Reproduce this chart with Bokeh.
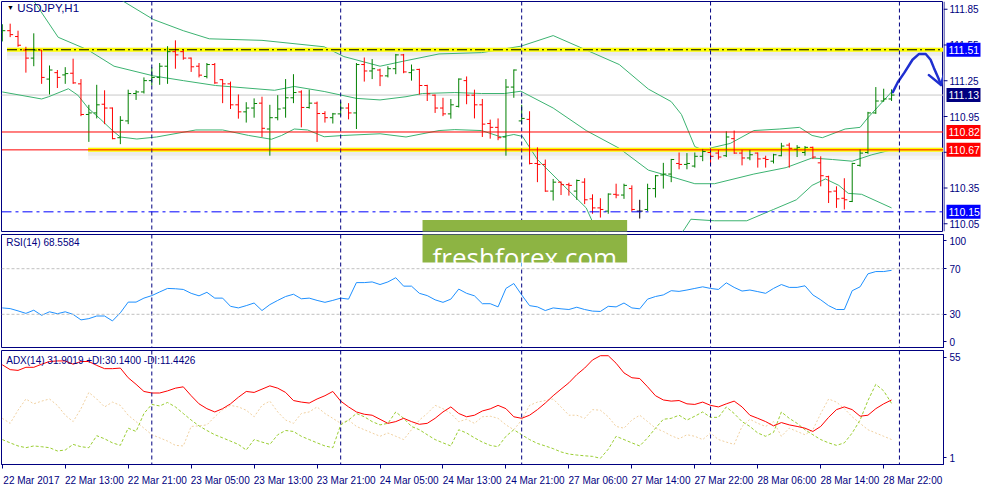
import numpy as np
from bokeh.plotting import figure
from bokeh.layouts import column, row
from bokeh.models import (Range1d, Span, Label, BoxAnnotation, FixedTicker, ColumnDataSource)
from bokeh.core.properties import value
from bokeh.embed import file_html
from bokeh.resources import INLINE

# ---------------- data ----------------
symbol_title = "USDJPY,H1"
rsi_title = "RSI(14) 68.5584"
adx_title = "ADX(14) 31.9019 +DI:30.1400 -DI:11.4426"
watermark_text = "freshforex.com"

bar_open = [111.656, 111.670, 111.621, 111.508, 111.440, 111.508, 111.264, 111.318, 111.299, 111.313,
            111.224, 110.967, 110.980, 111.053, 111.021, 110.772, 110.913, 111.143, 111.156, 111.251,
            111.278, 111.372, 111.494, 111.494, 111.440, 111.372, 111.286, 111.386, 111.259, 111.224,
            111.048, 110.989, 111.021, 111.062, 110.845, 110.940, 111.021, 111.107, 111.156, 111.026,
            111.062, 110.975, 110.940, 110.972, 111.021, 110.980, 111.386, 111.332, 111.340, 111.291,
            111.351, 111.467, 111.318, 111.345, 111.210, 111.129, 111.021, 110.972, 111.035, 111.251,
            111.129, 111.048, 110.891, 110.859, 110.778, 111.197, 110.913, 110.926, 110.556, 110.548,
            110.324, 110.399, 110.378, 110.324, 110.399, 110.259, 110.183, 110.156, 110.297, 110.291,
            110.345, 110.156, 110.170, 110.345, 110.459, 110.467, 110.556, 110.548, 110.534, 110.616,
            110.648, 110.643, 110.621, 110.764, 110.643, 110.602, 110.643, 110.599, 110.575, 110.621,
            110.710, 110.675, 110.648, 110.691, 110.561, 110.445, 110.324, 110.264, 110.237, 110.540,
            110.648, 110.980, 111.080, 111.097]
bar_high = [111.724, 111.729, 111.670, 111.535, 111.648, 111.508, 111.378, 111.340, 111.364, 111.435,
            111.264, 111.048, 111.216, 111.170, 111.026, 110.953, 111.175, 111.170, 111.278, 111.364,
            111.399, 111.540, 111.589, 111.513, 111.445, 111.399, 111.399, 111.399, 111.264, 111.243,
            111.135, 111.070, 111.102, 111.116, 111.048, 111.129, 111.264, 111.305, 111.170, 111.175,
            111.075, 110.994, 110.980, 111.075, 111.062, 111.399, 111.445, 111.432, 111.351, 111.372,
            111.475, 111.475, 111.386, 111.351, 111.216, 111.135, 111.107, 111.097, 111.270, 111.286,
            111.175, 111.097, 110.924, 110.934, 111.264, 111.345, 111.048, 110.994, 110.691, 110.589,
            110.426, 110.405, 110.394, 110.421, 110.432, 110.297, 110.264, 110.305, 110.386, 110.386,
            110.372, 110.251, 110.386, 110.459, 110.561, 110.594, 110.648, 110.643, 110.648, 110.678,
            110.683, 110.670, 110.826, 110.832, 110.670, 110.670, 110.648, 110.621, 110.637, 110.729,
            110.729, 110.710, 110.702, 110.697, 110.616, 110.453, 110.364, 110.432, 110.561, 110.675,
            110.989, 111.197, 111.183, 111.178]
bar_low = [111.580, 111.616, 111.535, 111.318, 111.372, 111.224, 111.135, 111.189, 111.224, 111.224,
           110.953, 110.737, 110.934, 110.886, 110.759, 110.718, 110.886, 111.089, 111.143, 111.210,
           111.216, 111.224, 111.351, 111.426, 111.324, 111.278, 111.270, 111.224, 111.062, 111.013,
           110.932, 110.899, 110.940, 110.778, 110.621, 110.918, 110.940, 111.062, 110.859, 111.016,
           110.737, 110.899, 110.891, 110.953, 110.926, 110.845, 111.243, 111.264, 111.205, 111.278,
           111.305, 111.313, 111.251, 111.135, 111.080, 110.980, 110.953, 110.932, 111.026, 111.053,
           110.934, 110.778, 110.764, 110.751, 110.621, 111.107, 110.886, 110.548, 110.399, 110.318,
           110.245, 110.291, 110.286, 110.251, 110.215, 110.134, 110.102, 110.134, 110.264, 110.259,
           110.151, 110.094, 110.156, 110.270, 110.345, 110.399, 110.507, 110.507, 110.521, 110.575,
           110.548, 110.589, 110.610, 110.637, 110.540, 110.583, 110.521, 110.521, 110.556, 110.616,
           110.521, 110.610, 110.621, 110.594, 110.364, 110.224, 110.183, 110.170, 110.232, 110.529,
           110.637, 110.972, 111.075, 111.080]
bar_close = [111.670, 111.637, 111.548, 111.440, 111.508, 111.278, 111.340, 111.278, 111.310, 111.232,
             110.967, 110.980, 111.048, 111.021, 110.764, 110.918, 111.143, 111.156, 111.251, 111.278,
             111.372, 111.494, 111.467, 111.440, 111.367, 111.297, 111.386, 111.232, 111.224, 111.048,
             110.989, 111.021, 111.059, 110.851, 110.940, 111.013, 111.107, 111.151, 111.026, 111.062,
             110.975, 110.940, 110.972, 111.021, 110.980, 111.386, 111.332, 111.351, 111.291, 111.351,
             111.467, 111.324, 111.340, 111.210, 111.140, 111.021, 110.972, 111.048, 111.264, 111.129,
             111.048, 110.886, 110.859, 110.772, 111.197, 111.340, 110.934, 110.556, 110.548, 110.324,
             110.399, 110.378, 110.372, 110.413, 110.251, 110.183, 110.170, 110.299, 110.291, 110.372,
             110.170, 110.156, 110.345, 110.453, 110.467, 110.589, 110.548, 110.556, 110.616, 110.656,
             110.616, 110.610, 110.778, 110.643, 110.602, 110.629, 110.594, 110.589, 110.629, 110.702,
             110.683, 110.691, 110.691, 110.610, 110.453, 110.318, 110.259, 110.251, 110.556, 110.643,
             110.980, 111.080, 111.097, 111.130]

# Bollinger bands (sampled along the bar axis)
bb_upper_x = [8, 14.8, 19.2, 23.0, 26.3, 33.0, 40.9, 43.4, 48.0, 50.9, 55.5, 60.9, 63.4, 65.9, 70.0,
              74.2, 78.4, 82.1, 85.0, 86.3, 88.0, 89.0, 92.5, 95.5, 98.8, 101.3, 102.9, 104.2, 107.1,
              109.0, 110.0, 113.0]
bb_upper = [112.25, 111.94, 111.764, 111.670, 111.602, 111.589, 111.535, 111.453, 111.372, 111.413,
            111.475, 111.486, 111.513, 111.540, 111.629, 111.508, 111.386, 111.180, 111.075, 110.967,
            110.697, 110.670, 110.724, 110.832, 110.845, 110.859, 110.791, 110.772, 110.845, 110.859,
            110.940, 111.156]
bb_mid_x = [0, 3.8, 7.1, 10.9, 14.2, 19.2, 23.0, 27.1, 34.6, 37.1, 40.9, 45.0, 48.0, 51.3, 53.4, 57.5,
            60.9, 63.8, 65.9, 70.0, 74.2, 78.4, 82.1, 84.6, 88.0, 90.5, 95.5, 99.6, 102.9, 105.5, 108.0,
            110.5, 113.0]
bb_mid = [112.17, 111.94, 111.615, 111.508, 111.372, 111.291, 111.251, 111.210, 111.170, 111.202,
          111.160, 111.102, 111.089, 111.116, 111.143, 111.151, 111.143, 111.143, 111.162, 111.021,
          110.832, 110.683, 110.500, 110.453, 110.386, 110.386, 110.467, 110.521, 110.602, 110.589,
          110.575, 110.629, 110.670]
bb_lower_x = [0, 5.0, 5.9, 8.4, 9.6, 10.9, 12.5, 14.0, 15.0, 17.1, 19.6, 24.6, 28.0, 31.3, 34.2, 35.5,
              37.1, 38.8, 40.9, 43.4, 48.0, 51.3, 55.5, 57.5, 60.9, 63.4, 65.0, 66.1, 68.0, 70.9, 74.2,
              75.5, 78.0, 82.0, 85.0, 86.7, 87.5, 90.5, 94.6, 98.0, 100.9, 102.9, 104.6, 106.3, 107.5,
              109.2, 113.0]
bb_lower = [111.156, 111.097, 111.116, 111.183, 111.129, 111.021, 110.926, 110.832, 110.778, 110.761,
            110.778, 110.837, 110.837, 110.791, 110.759, 110.791, 110.845, 110.837, 110.780, 110.791,
            110.805, 110.778, 110.832, 110.840, 110.832, 110.778, 110.799, 110.783, 110.589, 110.399,
            110.183, 109.994, 109.72, 109.70, 109.85, 110.007, 110.088, 110.075, 110.075, 110.170,
            110.251, 110.372, 110.426, 110.372, 110.305, 110.297, 110.183]

rsi = [35.6, 35.0, 33.0, 30.8, 33.6, 29.1, 32.2, 30.5, 32.2, 29.9,
       25.1, 26.2, 28.5, 28.5, 24.2, 31.3, 40.7, 40.7, 44.2, 46.4,
       49.6, 52.7, 52.4, 51.8, 48.4, 46.2, 49.3, 44.2, 44.2, 37.0,
       35.6, 37.6, 39.9, 33.3, 38.5, 42.2, 45.6, 47.6, 43.6, 44.2,
       42.2, 40.5, 42.2, 44.2, 43.3, 57.8, 57.8, 58.4, 56.1, 58.4,
       62.1, 54.7, 54.7, 48.4, 46.4, 42.7, 40.5, 43.3, 52.1, 48.4,
       46.2, 39.3, 39.3, 36.5, 52.7, 57.0, 47.0, 37.6, 36.5, 33.3,
       35.6, 34.8, 34.2, 36.2, 34.2, 32.8, 32.5, 37.0, 36.5, 39.9,
       35.6, 34.8, 43.3, 45.6, 47.0, 50.7, 50.1, 51.3, 52.7, 54.1,
       52.7, 51.8, 57.6, 53.6, 50.4, 51.3, 49.9, 48.4, 52.7, 56.1,
       53.6, 53.6, 55.0, 47.0, 42.7, 37.6, 34.2, 34.2, 50.7, 54.1,
       65.5, 67.5, 67.5, 68.56]
rsi_levels = [30, 70]
rsi_tick_labels = ["0", "30", "70", "100"]

adx = [50.1, 47.6, 47.2, 48.8, 48.8, 50.4, 51.8, 52.1, 52.1, 50.4,
       51.8, 51.8, 49.8, 48.1, 48.1, 48.4, 43.4, 40.0, 36.3, 35.5,
       35.5, 36.6, 38.0, 38.7, 34.1, 29.9, 27.4, 25.7, 27.4, 29.9,
       33.3, 36.3, 35.8, 37.5, 39.2, 38.0, 35.8, 31.6, 30.8, 30.3,
       32.4, 34.1, 36.3, 31.3, 28.3, 25.7, 24.5, 24.0, 21.9, 19.8,
       20.7, 22.4, 20.7, 19.3, 19.8, 22.4, 25.7, 28.3, 24.9, 23.2,
       24.0, 26.2, 27.3, 29.1, 27.4, 23.2, 22.4, 24.0, 26.9, 30.3,
       34.1, 37.5, 40.8, 45.0, 48.4, 52.6, 54.8, 54.8, 50.9, 45.9,
       43.4, 43.0, 38.7, 34.1, 31.9, 31.3, 31.6, 29.9, 29.6, 30.8,
       29.1, 28.3, 29.9, 31.3, 28.3, 24.0, 22.4, 20.7, 18.5, 20.2,
       19.0, 18.2, 17.3, 15.6, 18.2, 22.9, 26.9, 28.3, 26.9, 23.5,
       24.0, 27.4, 29.9, 31.9]
plus_di = [11.4, 9.7, 8.1, 7.2, 8.1, 7.7, 7.2, 5.5, 6.0, 8.9,
           7.7, 7.2, 13.4, 11.8, 9.7, 8.4, 17.3, 15.6, 24.9, 29.6,
           28.8, 30.6, 28.3, 24.9, 21.5, 18.5, 16.1, 13.9, 12.3, 10.6,
           8.9, 6.0, 11.4, 10.1, 8.9, 13.9, 16.1, 15.6, 13.1, 11.4,
           9.7, 8.1, 7.2, 19.0, 21.5, 24.9, 23.2, 20.7, 19.0, 19.8,
           25.7, 22.4, 18.2, 16.5, 13.9, 11.4, 9.7, 8.1, 16.5, 14.8,
           12.3, 10.1, 8.4, 7.7, 13.1, 16.5, 13.9, 11.4, 9.4, 8.1,
           6.7, 5.0, 3.9, 3.4, 3.0, 2.7, 1.7, 6.4, 13.1, 11.4,
           9.7, 8.1, 12.3, 17.3, 21.9, 22.4, 24.0, 21.5, 23.5, 25.7,
           22.9, 22.9, 28.3, 24.9, 20.7, 18.2, 14.8, 13.1, 15.1, 25.7,
           22.4, 19.8, 16.5, 13.9, 11.4, 9.7, 8.4, 9.7, 14.8, 21.5,
           31.6, 40.0, 36.6, 30.14]
minus_di = [22.4, 19.8, 26.6, 32.4, 29.9, 31.3, 32.4, 29.1, 24.0, 20.7,
            27.4, 35.8, 32.4, 28.3, 30.8, 29.1, 24.0, 20.7, 17.3, 13.9,
            12.3, 10.6, 8.4, 8.1, 18.2, 18.5, 19.0, 23.2, 26.9, 29.1,
            28.3, 26.6, 23.2, 29.1, 31.3, 25.7, 21.5, 19.8, 24.9, 25.7,
            28.3, 24.9, 22.4, 19.8, 21.5, 18.2, 16.5, 14.8, 13.1, 14.8,
            13.1, 11.4, 16.5, 21.5, 24.9, 29.1, 27.4, 24.9, 20.7, 21.9,
            19.8, 23.2, 23.5, 22.4, 19.0, 16.5, 21.5, 29.1, 30.8, 31.6,
            32.4, 28.3, 24.0, 24.0, 22.4, 26.9, 26.6, 23.2, 18.2, 17.3,
            21.5, 24.0, 20.7, 17.3, 15.6, 13.4, 11.8, 13.9, 13.1, 11.4,
            14.8, 11.4, 10.1, 8.9, 18.2, 21.9, 19.8, 18.2, 20.7, 13.1,
            17.3, 15.6, 13.9, 16.5, 24.9, 32.4, 30.8, 27.4, 23.2, 19.8,
            16.5, 14.8, 13.1, 11.44]
adx_scale_labels = ["1", "55"]

time_tick_bars = [0, 8, 16, 24, 32, 40, 48, 56, 64, 72, 80, 88, 96, 104, 112]
time_tick_labels = ["22 Mar 2017", "22 Mar 13:00", "22 Mar 21:00", "23 Mar 05:00", "23 Mar 13:00",
                    "23 Mar 21:00", "24 Mar 05:00", "24 Mar 13:00", "24 Mar 21:00", "27 Mar 06:00",
                    "27 Mar 14:00", "27 Mar 22:00", "28 Mar 06:00", "28 Mar 14:00", "28 Mar 22:00"]
day_separator_bars = [19, 43, 66, 90, 114]
price_ticks = [111.85, 111.55, 111.25, 110.95, 110.65, 110.35, 110.05]

resistance_level = 111.51
resistance_start = 0.6
current_price = 111.13
red_level = 110.82
support_level = 110.67
support_start = 10.9
low_level = 110.15
price_tags = [resistance_level, current_price, red_level, support_level, low_level]
price_tag_colors = ["#0000ff", "#000080", "#ff0000", "#ff0000", "#0000ff"]

# hand-drawn forecast arrow (bar, price)
arrow_x = [113.16, 113.79, 114.63, 115.66, 116.5, 117.34, 117.96, 118.38, 119.0, 119.29]
arrow_y = [111.155, 111.237, 111.318, 111.426, 111.475, 111.475, 111.426, 111.358, 111.264, 111.215]
arrow_head_x = [117.75, 119.29, 119.96]
arrow_head_y = [111.297, 111.215, 111.378]

# ---------------- style / layout ----------------
NAVY = "#000080"
BULL, BEAR, DOJI = "#008000", "#ff0000", "#000000"
BB_COL = "#3CB371"
FONT = "Liberation Sans"
FRAME_W = 942
MAIN_H, RSI_H, ADX_H = 230, 114, 114
GAP = 2
RIGHT = 40
LAB_W = 40
x_lo, x_hi = -0.1, 119.6
price_lo, price_hi = 109.985, 111.915
rsi_lo, rsi_hi = 0, 100
adx_lo, adx_hi = -1.5, 57.5
TICK = 0.38
LABEL_SHIFT = 3.7   # label centre offset (bars) so that date text starts at its tick

xr = Range1d(x_lo, x_hi)

main_top = 1
rsi_top = 1 + MAIN_H + 1 + GAP
def main_val(yc):
    return price_hi - (yc - main_top) / MAIN_H * (price_hi - price_lo)
def rsi_val(yc):
    return rsi_hi - (yc - rsi_top) / RSI_H * (rsi_hi - rsi_lo)
wm_top_px, wm_bot_px, wm_base_px = 219.5, 262.0, 256.0
wm_left, wm_right, wm_center = 53.4, 79.4, 66.4


def style_yaxis(f):
    for ax in f.yaxis:
        ax.axis_line_color = NAVY
        ax.axis_line_width = 1
        ax.major_tick_line_color = NAVY
        ax.minor_tick_line_color = None
        ax.major_tick_out = 3
        ax.major_tick_in = 0
        ax.major_label_standoff = 3
        ax.major_label_text_font = FONT
        ax.major_label_text_font_size = "10px"
        ax.major_label_text_color = NAVY


def make_fig(h, yr, top, right, bottom, xaxis=False, yaxis=True):
    f = figure(frame_width=FRAME_W, frame_height=h, x_range=xr, y_range=yr,
               output_backend="svg", toolbar_location=None,
               y_axis_location="right" if yaxis else None,
               x_axis_location="below" if xaxis else None,
               min_border_left=1, min_border_right=right, min_border_top=top,
               min_border_bottom=bottom)
    f.grid.visible = False
    f.outline_line_color = NAVY
    f.outline_line_width = 1
    style_yaxis(f)
    for b in day_separator_bars:
        f.add_layout(Span(location=b, dimension="height", line_color=NAVY,
                          line_dash="4 3", line_width=1))
    return f


# ---------------- main price panel ----------------
p = make_fig(MAIN_H, Range1d(price_lo, price_hi), 1, 0, 1, yaxis=False)

ppx = (price_hi - price_lo) / MAIN_H
for lvl, start in [(resistance_level, resistance_start), (support_level, support_start)]:
    p.add_layout(BoxAnnotation(left=start, top=lvl + 3 * ppx, bottom=lvl - 10 * ppx,
                               fill_color="#808080", fill_alpha=0.07, line_color=None, level="underlay"))
    p.add_layout(BoxAnnotation(left=start, top=lvl + 1 * ppx, bottom=lvl - 6 * ppx,
                               fill_color="#808080", fill_alpha=0.09, line_color=None, level="underlay"))

p.line(bb_upper_x, bb_upper, color=BB_COL, line_width=1)
p.line(bb_mid_x, bb_mid, color=BB_COL, line_width=1)
p.line(bb_lower_x, bb_lower, color=BB_COL, line_width=1)

p.add_layout(Span(location=current_price, dimension="width", line_color="#C8C8C8", line_width=1,
                  level="underlay"))

p.segment(x0=[resistance_start], y0=[resistance_level], x1=[x_hi + 5], y1=[resistance_level],
          line_color="#ffff00", line_width=4)
p.segment(x0=[support_start], y0=[support_level], x1=[x_hi + 5], y1=[support_level],
          line_color="#ffff00", line_width=4)

idx = np.arange(len(bar_open))
o, hh, ll, cc = map(np.array, (bar_open, bar_high, bar_low, bar_close))
colors = [BULL if c > op else (BEAR if c < op else DOJI) for op, c in zip(o, cc)]
src = ColumnDataSource(dict(x=idx, xl=idx - TICK, xr=idx + TICK, o=o, h=hh, l=ll, c=cc, color=colors))
p.segment(x0="x", y0="l", x1="x", y1="h", line_color="color", line_width=1, source=src)
p.segment(x0="xl", y0="o", x1="x", y1="o", line_color="color", line_width=1, source=src)
p.segment(x0="x", y0="c", x1="xr", y1="c", line_color="color", line_width=1, source=src)

p.segment(x0=[resistance_start], y0=[resistance_level], x1=[x_hi + 5], y1=[resistance_level],
          line_color="#000000", line_width=1, line_dash="10 3 2 3")
p.add_layout(Span(location=red_level, dimension="width", line_color="#ff0000", line_width=1))
p.add_layout(Span(location=support_level, dimension="width", line_color="#ff0000", line_width=1))
p.add_layout(Span(location=low_level, dimension="width", line_color="#0000ff", line_width=1,
                  line_dash="10 4 3 4"))

p.line(arrow_x, arrow_y, line_color="#1f2fd0", line_width=2.5, line_cap="round", line_join="round")
p.line(arrow_head_x, arrow_head_y, line_color="#1f2fd0", line_width=2.5, line_cap="round",
       line_join="round")

p.add_layout(Label(x=0.6, y=111.862, text="\u25bc", text_font_size="7px", text_color="#000000",
                   text_baseline="middle", text_font=FONT))
p.add_layout(Label(x=1.9, y=111.859, text=symbol_title, text_font_size="11.5px", text_color=NAVY,
                   text_baseline="middle", text_font=FONT))

# price scale column (axis line, ticks, tick texts, coloured level tags) on the price scale
pl = figure(frame_width=LAB_W, frame_height=MAIN_H, x_range=Range1d(0, LAB_W), y_range=p.y_range,
            output_backend="svg", toolbar_location=None, x_axis_location=None, y_axis_location=None,
            min_border_left=0, min_border_right=0, min_border_top=1, min_border_bottom=1)
pl.outline_line_color = None
pl.grid.visible = False
pl.add_layout(Span(location=0.5, dimension="height", line_color=NAVY, line_width=1))
n_t = len(price_ticks)
pl.segment(x0=[0] * n_t, y0=price_ticks, x1=[4] * n_t, y1=price_ticks, line_color=NAVY, line_width=1)
pl.text(x=[6] * n_t, y=price_ticks, text=[f"{t:.2f}" for t in price_ticks],
        text_align="left", text_baseline="middle", text_font=value(FONT), text_font_size="10px",
        text_color=NAVY)
pl.rect(x=[20] * len(price_tags), y=price_tags, width=34, height=14, height_units="screen",
        fill_color=price_tag_colors, line_color=None)
pl.text(x=[5] * len(price_tags), y=price_tags, text=[f"{t:.2f}" for t in price_tags],
        text_align="left", text_baseline="middle", text_font=value(FONT), text_font_size="10.5px",
        text_color="white")

# ---------------- RSI panel ----------------
r = make_fig(RSI_H, Range1d(rsi_lo, rsi_hi), GAP, RIGHT, 0)
rsi_tick_pos = [6, 30, 70, 94.5]
r.yaxis.ticker = FixedTicker(ticks=rsi_tick_pos)
r.yaxis.major_label_overrides = {t: s for t, s in zip(rsi_tick_pos, rsi_tick_labels)}
for lv in rsi_levels:
    r.add_layout(Span(location=lv, dimension="width", line_color="#C0C0C0", line_width=1, line_dash="3 2"))
r.line(idx, rsi, color="#1E90FF", line_width=1)
r.add_layout(Label(x=0.5, y=93.2, text=rsi_title, text_font_size="10px", text_color=NAVY,
                   text_baseline="middle", text_font=FONT))

# ---------------- ADX panel ----------------
a = make_fig(ADX_H, Range1d(adx_lo, adx_hi), GAP, RIGHT, 0, xaxis=True)
adx_tick_pos = [2.0, 54.0]
a.yaxis.ticker = FixedTicker(ticks=adx_tick_pos)
a.yaxis.major_label_overrides = {t: s for t, s in zip(adx_tick_pos, adx_scale_labels)}
a.line(idx, minus_di, color="#F0D0A0", line_width=1, line_dash="2 2")
a.line(idx, plus_di, color="#9ACD32", line_width=1, line_dash="3 2")
a.line(idx, adx, color="#ff0000", line_width=1)
a.add_layout(Label(x=0.5, y=52.5, text=adx_title, text_font_size="10px", text_color=NAVY,
                   text_baseline="middle", text_font=FONT))
label_centres = [b + LABEL_SHIFT for b in time_tick_bars]
xa = a.xaxis[0]
xa.ticker = FixedTicker(ticks=label_centres, minor_ticks=time_tick_bars)
xa.major_label_overrides = {c: s for c, s in zip(label_centres, time_tick_labels)}
xa.axis_line_color = NAVY
xa.major_tick_line_color = None
xa.major_tick_out = 0
xa.major_tick_in = 0
xa.minor_tick_line_color = NAVY
xa.minor_tick_out = 4
xa.minor_tick_in = 0
xa.major_label_standoff = 6
xa.major_label_text_font = FONT
xa.major_label_text_font_size = "10px"
xa.major_label_text_color = NAVY

# ---------------- watermark straddling main & RSI panels ----------------
WM = "#8DB443"
p.add_layout(BoxAnnotation(left=wm_left, right=wm_right, top=main_val(wm_top_px),
                           bottom=main_val(wm_bot_px), fill_color=WM, fill_alpha=1, line_color=None))
r.add_layout(BoxAnnotation(left=wm_left, right=wm_right, top=rsi_val(wm_top_px),
                           bottom=rsi_val(wm_bot_px), fill_color=WM, fill_alpha=1, line_color=None))
r.add_layout(Label(x=wm_center, y=rsi_val(wm_base_px), text=watermark_text, text_align="center",
                   text_baseline="alphabetic", text_color="white", text_font="Open Sans",
                   text_font_size="26px"))

layout = column(row(p, pl, spacing=0), r, a, spacing=0)
open("out.html", "w").write(file_html(layout, INLINE))
